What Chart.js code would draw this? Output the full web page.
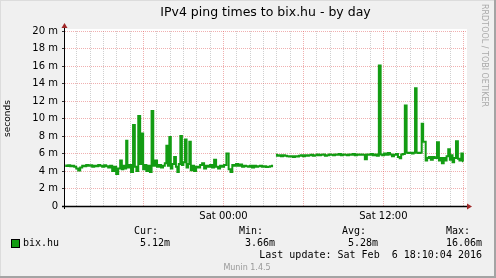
<!DOCTYPE html>
<html>
<head>
<meta charset="utf-8">
<title>IPv4 ping times to bix.hu - by day</title>
<script src="https://cdn.jsdelivr.net/npm/chart.js@4/dist/chart.umd.min.js"></script>
<style>
  html, body { margin: 0; padding: 0; background: #f0f0f0; }
  canvas { display: block; }
</style>
</head>
<body>
<canvas id="chart" width="496" height="278" style="width:496px;height:278px"></canvas>
<script>
// minutes relative to Sat 00:00, ping in ms (null = no data)
var minutes = [
  -713, -704, -695, -686, -677, -668, -659, -650, -641, -632, -623, -614, -605, -596, -587, -578,
  -569, -560, -551, -542, -533, -524, -515, -506, -497, -488, -479, -470, -461, -455, -448, -441,
  -436, -430, -421, -412, -403, -396, -389, -379, -372, -365, -359, -351, -344, -335, -328, -320,
  -313, -304, -295, -286, -277, -268, -261, -254, -247, -241, -234, -227, -218, -211, -205, -198,
  -191, -184, -178, -170, -163, -157, -151, -144, -137, -128, -119, -110, -101, -92, -83, -74,
  -65, -56, -47, -38, -29, -20, -11, -2, 7, 19, 27, 36, 43, 52, 61, 70,
  79, 88, 97, 106, 115, 124, 133, 142, 151, 160, 169, 178, 187, 196, 205, 214,
  223, 230,
  236, 245, 254, 263, 272, 281, 290, 299, 308, 317, 326, 335, 344, 353, 362, 371,
  380, 389, 398, 407, 416, 425, 434, 443, 452, 461, 470, 479, 488, 497, 506, 515,
  524, 533, 542, 551, 560, 569, 578, 587, 596, 605, 614, 623, 632, 641, 650, 659,
  668, 677, 686, 695,
  704, 711, 718, 727, 736, 745, 754, 763, 772, 781, 790, 797, 803, 812, 821, 828,
  835, 844, 853, 859, 866, 873, 880, 889, 896, 902, 907, 914, 920, 929, 938, 947,
  956, 967, 973, 979, 988, 995, 1001, 1008, 1016, 1023, 1028, 1035, 1042, 1052, 1059, 1066,
  1076, 1080
];
var pingMs = [
  4.62, 4.58, 4.65, 4.55, 4.6, 4.5, 4.3, 4.05, 4.4, 4.6, 4.55, 4.7, 4.6, 4.65, 4.5, 4.6,
  4.55, 4.7, 4.6, 4.5, 4.65, 4.55, 4.4, 4.6, 4.0, 4.5, 3.66, 4.3, 5.2, 4.2, 4.6, 4.3,
  7.45, 4.4, 4.7, 3.9, 9.25, 4.5, 4.0, 10.3, 4.8, 8.3, 4.2, 4.7, 4.0, 4.6, 3.9, 10.85,
  4.6, 5.2, 4.5, 4.7, 4.4, 4.6, 4.9, 6.9, 4.6, 7.9, 4.3, 4.8, 5.6, 4.5, 3.9, 4.8,
  8.0, 4.7, 5.0, 7.6, 4.4, 4.8, 7.35, 4.1, 4.6, 4.0, 4.5, 4.4, 4.7, 4.9, 4.3, 4.6,
  4.5, 4.7, 4.4, 5.3, 4.5, 4.3, 4.6, 4.5, 4.7, 6.0, 4.2, 3.9, 4.7, 4.6, 4.8, 4.6,
  4.75, 4.5, 4.6, 4.55, 4.5, 4.6, 4.4, 4.6, 4.5, 4.55, 4.6, 4.5, 4.55, 4.45, 4.5, 4.55,
  4.6, null,
  5.85, 5.75, 5.8, 5.7, 5.8, 5.75, 5.7, 5.65, 5.7, 5.6, 5.7, 5.65, 5.75, 5.8, 5.7, 5.8,
  5.75, 5.8, 5.85, 5.75, 5.8, 5.9, 5.8, 5.85, 5.9, 5.75, 5.8, 5.9, 5.85, 5.8, 5.9, 5.85,
  5.95, 5.8, 5.9, 5.85, 5.8, 5.9, 5.85, 5.95, 5.8, 5.9, 5.85, 5.9, 5.85, 5.35, 5.9, 5.85,
  5.95, 5.8, 5.9, 5.75,
  16.06, 5.9, 5.8, 6.0, 5.85, 6.05, 5.9, 5.7, 5.85, 5.95, 5.6, 5.45, 5.9, 5.95, 11.5, 6.1,
  6.05, 6.1, 6.0, 6.1, 13.45, 6.1, 6.05, 6.1, 9.4, 7.35, 7.35, 5.2, 5.5, 5.6, 5.3, 5.6,
  5.5, 7.3, 5.2, 5.5, 4.9, 5.5, 5.2, 5.7, 6.5, 5.3, 5.8, 5.0, 5.5, 7.4, 5.4, 5.2,
  6.0, 5.12
];
var timeTicks = [0, 720];
var timeTickLabels = ['Sat 00:00', 'Sat 12:00'];
var statLabels = ['Cur:', 'Min:', 'Avg:', 'Max:'];
var statValues = ['5.12m', '3.66m', '5.28m', '16.06m'];
var seriesName = 'bix.hu';
var lastUpdate = 'Last update: Sat Feb  6 18:10:04 2016';

var lineColor = '#139c13';
var minorGrid = 'rgba(170,170,170,0.55)';
var majorGrid = 'rgba(222,80,80,0.45)';

var munin = {
  id: 'munin',
  beforeDraw: function(chart) {
    var ctx = chart.ctx, a = chart.chartArea;
    ctx.save();
    ctx.fillStyle = '#f0f0f0';
    ctx.fillRect(0, 0, chart.width, chart.height);
    ctx.fillStyle = '#ffffff';
    ctx.fillRect(a.left, a.top - 2, a.right - a.left + 1, a.bottom - a.top + 2);
    ctx.restore();
  },
  afterDraw: function(chart) {
    var ctx = chart.ctx, a = chart.chartArea;
    var x0 = a.left - 0.5, y0 = a.bottom + 0.5;
    ctx.save();
    // axes
    ctx.strokeStyle = '#000';
    ctx.lineWidth = 1.5;
    ctx.beginPath();
    ctx.moveTo(a.left - 3, y0);
    ctx.lineTo(a.right + 2, y0);
    ctx.stroke();
    ctx.lineWidth = 1;
    ctx.beginPath();
    ctx.moveTo(x0, a.bottom + 3);
    ctx.lineTo(x0, a.top - 4);
    ctx.stroke();
    ctx.fillStyle = '#a02828';
    ctx.beginPath();
    ctx.moveTo(a.right + 6, y0);
    ctx.lineTo(a.right + 1, y0 - 3);
    ctx.lineTo(a.right + 1, y0 + 3);
    ctx.fill();
    ctx.beginPath();
    ctx.moveTo(x0, a.top - 8);
    ctx.lineTo(x0 - 3, a.top - 3);
    ctx.lineTo(x0 + 3, a.top - 3);
    ctx.fill();

    // legend
    ctx.font = '10px "DejaVu Sans Mono"';
    ctx.fillStyle = '#000';
    ctx.textBaseline = 'middle';
    ctx.textAlign = 'left';
    var labelX = [134, 239, 342, 446];
    var valueRight = [170, 275, 378, 482];
    statLabels.forEach(function(s, i) { ctx.fillText(s, labelX[i], 231); });
    ctx.fillText(seriesName, 23, 243.5);
    ctx.textAlign = 'right';
    statValues.forEach(function(s, i) { ctx.fillText(s, valueRight[i], 243.5); });
    ctx.fillText(lastUpdate, 482, 255);
    ctx.fillStyle = lineColor;
    ctx.fillRect(12, 240, 7, 7);
    ctx.strokeStyle = '#000';
    ctx.lineWidth = 1;
    ctx.strokeRect(11.5, 239.5, 8, 8);

    ctx.font = '8px "DejaVu Sans"';
    ctx.fillStyle = '#999';
    ctx.textAlign = 'center';
    ctx.fillText('Munin 1.4.5', 247, 268);

    ctx.translate(484, 4);
    ctx.rotate(Math.PI / 2);
    ctx.textAlign = 'left';
    ctx.fillStyle = '#aaa';
    ctx.fillText('RRDTOOL / TOBI OETIKER', 0, 0);
    ctx.setTransform(1, 0, 0, 1, 0, 0);

    // frame
    ctx.fillStyle = '#dcdcdc';
    ctx.fillRect(0, 0, chart.width, 1);
    ctx.fillRect(0, 0, 1, chart.height);
    ctx.fillStyle = '#a4a4a4';
    ctx.fillRect(0, chart.height - 2, chart.width, 2);
    ctx.fillRect(chart.width - 2, 0, 2, chart.height);
    ctx.restore();
  }
};

var data = minutes.map(function(t, i) { return {x: t, y: pingMs[i]}; });

new Chart(document.getElementById('chart').getContext('2d'), {
  type: 'line',
  data: {
    datasets: [{
      label: seriesName,
      data: data,
      borderColor: lineColor,
      borderWidth: 2,
      pointRadius: 0,
      stepped: 'middle',
      spanGaps: false,
      fill: false
    }]
  },
  options: {
    responsive: false,
    animation: false,
    events: [],
    layout: { padding: { left: 0, top: 0, right: 30, bottom: 0 } },
    plugins: {
      legend: { display: false },
      tooltip: { enabled: false },
      title: {
        display: true,
        fullSize: false,
        text: 'IPv4 ping times to bix.hu - by day',
        color: '#000',
        font: { family: 'DejaVu Sans', size: 12.5, weight: 'normal' },
        padding: { top: 5, bottom: 11 }
      }
    },
    scales: {
      x: {
        type: 'linear',
        min: -714,
        max: 1092,
        afterBuildTicks: function(scale) {
          var t = [];
          for (var m = -660; m <= 1080; m += 60) t.push({ value: m });
          scale.ticks = t;
        },
        afterFit: function(scale) { scale.height = 72; },
        ticks: {
          autoSkip: false,
          maxRotation: 0,
          padding: 4,
          color: '#000',
          font: { family: 'DejaVu Sans', size: 10 },
          callback: function(v) {
            var k = timeTicks.indexOf(v);
            return k >= 0 ? timeTickLabels[k] : '';
          }
        },
        grid: {
          drawTicks: false,
          lineWidth: 1,
          color: function(c) { return c.tick && c.tick.value % 360 === 0 ? majorGrid : minorGrid; }
        },
        border: { display: false, dash: [1, 1] }
      },
      y: {
        min: 0,
        max: 20,
        afterBuildTicks: function(scale) {
          var t = [];
          for (var v = 0; v <= 20; v++) t.push({ value: v });
          scale.ticks = t;
        },
        afterFit: function(scale) { scale.width = 65; },
        title: {
          display: true,
          text: 'seconds',
          color: '#000',
          font: { family: 'DejaVu Sans', size: 9 },
          padding: { top: 2, bottom: 0 }
        },
        ticks: {
          padding: 4,
          color: '#000',
          font: { family: 'DejaVu Sans', size: 10 },
          callback: function(v) {
            if (v === 0) return '0';
            return v % 2 === 0 ? v + ' m' : '';
          }
        },
        grid: {
          tickLength: 3,
          lineWidth: 1,
          color: function(c) { return c.tick && c.tick.value % 2 === 0 ? majorGrid : minorGrid; },
          tickColor: function(c) { return c.tick && c.tick.value % 2 === 0 ? '#333' : 'rgba(0,0,0,0)'; }
        },
        border: { display: false, dash: [1, 1] }
      }
    }
  },
  plugins: [munin]
});
</script>
</body>
</html>
